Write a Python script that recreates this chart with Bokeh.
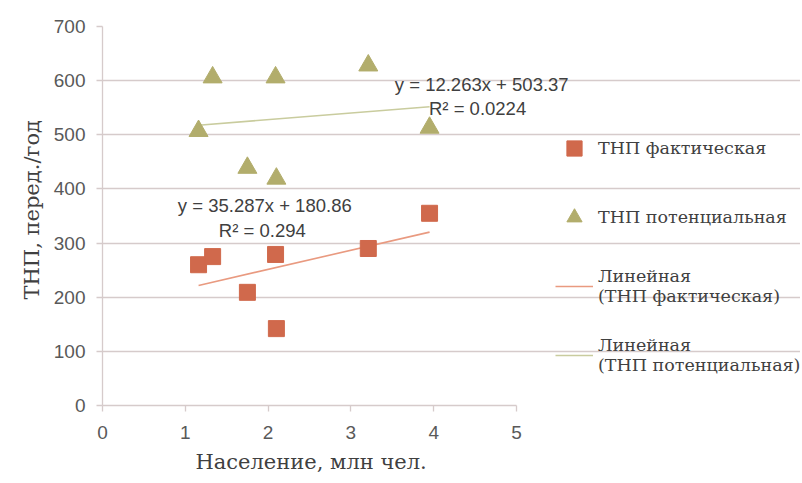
from bokeh.plotting import figure
from bokeh.models import Range1d, Legend, LegendItem, Label, FixedTicker, Title
from bokeh.embed import file_html
from bokeh.resources import INLINE

# ---- data ----
population = [1.16, 1.33, 1.75, 2.09, 2.10, 3.21, 3.95]          # млн чел.
tnp_fact = [260, 275, 209, 279, 142, 290, 355]                   # ТНП фактическая
tnp_pot = [507, 606, 439, 606, 419, 628, 513]                    # ТНП потенциальная

fact_slope, fact_intercept, fact_r2 = 35.287, 180.86, 0.294
pot_slope, pot_intercept, pot_r2 = 12.263, 503.37, 0.0224

x_ticks = [0, 1, 2, 3, 4, 5]
y_ticks = [0, 100, 200, 300, 400, 500, 600, 700]

x_title = "Население, млн чел."
y_title = "ТНП, перед./год"
name_fact = "ТНП фактическая"
name_pot = "ТНП потенциальная"
name_lin_fact = "Линейная\n(ТНП фактическая)"
name_lin_pot = "Линейная\n(ТНП потенциальная)"

# ---- styles ----
SQ_COLOR = "#D0694C"
TRI_COLOR = "#B2AD6C"
LINE_FACT = "#E99A80"
LINE_POT = "#C9CC9E"
GRID = "#D6CBCB"
TICK_TXT = "#595959"
TITLE_TXT = "#404040"
SERIF = "DejaVu Serif"
SANS = "Liberation Sans"

# plot area (0..5) is 414 px wide; the frame is widened to host the legend and labels
AXIS_PX = 414
FRAME_PX = 698
X_MAX = x_ticks[-1]

p = figure(
    frame_width=FRAME_PX, frame_height=379,
    min_border_left=102, min_border_right=0,
    min_border_top=26, min_border_bottom=72,
    x_range=Range1d(0, X_MAX * FRAME_PX / AXIS_PX), y_range=Range1d(0, 700),
    output_backend="svg", toolbar_location=None,
)
p.outline_line_color = None
p.background_fill_color = "white"
p.border_fill_color = "white"

# axes
for ax in (p.xaxis[0], p.yaxis[0]):
    ax.axis_line_color = GRID
    ax.axis_line_width = 1.3
    ax.major_tick_line_color = GRID
    ax.major_tick_line_width = 1.3
    ax.major_tick_out = 6
    ax.major_tick_in = 0
    ax.minor_tick_line_color = None
    ax.major_label_text_font = SANS
    ax.major_label_text_font_size = "19px"
    ax.major_label_text_color = TICK_TXT

p.xaxis.ticker = FixedTicker(ticks=x_ticks)
p.yaxis.ticker = FixedTicker(ticks=y_ticks)
p.xaxis.bounds = (0, X_MAX)
p.xaxis.major_label_standoff = 14
p.yaxis.major_label_standoff = 11

# axis titles (as titles so they sit over the 0..5 area, not the widened frame)
p.add_layout(Title(text=x_title, align="left", offset=93, standoff=13,
                   text_font=SERIF, text_font_size="21px", text_font_style="normal",
                   text_color=TITLE_TXT), "below")
p.add_layout(Title(text=y_title, align="left", offset=106, standoff=14,
                   text_font=SERIF, text_font_size="21px", text_font_style="normal",
                   text_color=TITLE_TXT), "left")

p.xgrid.grid_line_color = None
p.ygrid.grid_line_color = GRID
p.ygrid.grid_line_width = 1.3
p.ygrid.ticker = FixedTicker(ticks=y_ticks)
p.ygrid.bounds = (0, X_MAX)

# trend lines (from min to max x)
x0, x1 = min(population), max(population)
r_lin_fact = p.line([x0, x1], [fact_slope * x0 + fact_intercept, fact_slope * x1 + fact_intercept],
                    line_color=LINE_FACT, line_width=1.6)
r_lin_pot = p.line([x0, x1], [pot_slope * x0 + pot_intercept, pot_slope * x1 + pot_intercept],
                   line_color=LINE_POT, line_width=1.6)

# scatter points
r_fact = p.scatter(population, tnp_fact, marker="square", size=16,
                   fill_color=SQ_COLOR, line_color=SQ_COLOR)
r_pot = p.scatter(population, tnp_pot, marker="triangle", size=19,
                  fill_color=TRI_COLOR, line_color=TRI_COLOR)

# equation labels
def eq_text(slope, intercept):
    return f"y = {slope}x + {intercept}"

label_specs = [
    (4.58, 593, eq_text(pot_slope, pot_intercept)),
    (4.53, 549, f"R² = {pot_r2}"),
    (1.96, 369, eq_text(fact_slope, fact_intercept)),
    (1.93, 323, f"R² = {fact_r2}"),
]
for lx, ly, txt in label_specs:
    p.add_layout(Label(x=lx, y=ly, text=txt, text_align="center", text_baseline="middle",
                       text_font=SANS, text_font_size="18.5px", text_color=TITLE_TXT))

legend = Legend(
    items=[
        LegendItem(label=name_fact, renderers=[r_fact]),
        LegendItem(label=name_pot, renderers=[r_pot]),
        LegendItem(label=name_lin_fact, renderers=[r_lin_fact]),
        LegendItem(label=name_lin_pot, renderers=[r_lin_pot]),
    ],
    location=(453, 27),
    orientation="vertical",
    padding=0, margin=0, spacing=23,
    glyph_width=38, glyph_height=46, label_height=46,
    label_standoff=5,
    label_text_font=SERIF, label_text_font_size="17.5px", label_text_color=TITLE_TXT,
    border_line_color=None, background_fill_alpha=0,
)
p.add_layout(legend, "center")

open("out.html", "w").write(file_html(p, INLINE))
